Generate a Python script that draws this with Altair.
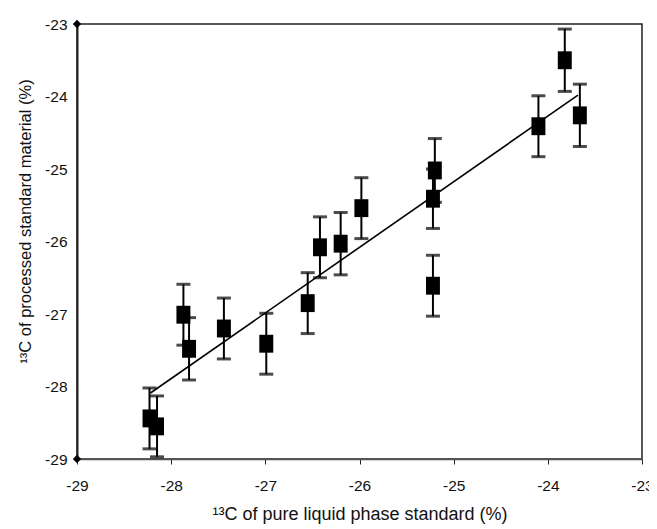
import altair as alt
import pandas as pd

# Data
x_vals = [-28.23, -28.15, -27.87, -27.81, -27.44, -26.99, -26.55, -26.42,
          -26.20, -25.98, -25.22, -25.22, -25.20, -24.10, -23.82, -23.66]
y_vals = [-28.44, -28.55, -27.01, -27.48, -27.20, -27.41, -26.85, -26.08,
          -26.03, -25.54, -26.61, -25.41, -25.02, -24.41, -23.50, -24.26]
y_err = [0.42, 0.42, 0.42, 0.43, 0.42, 0.42, 0.42, 0.42,
         0.43, 0.42, 0.42, 0.41, 0.44, 0.42, 0.43, 0.43]

fit_x = [-28.22, -23.68]
fit_y = [-28.09, -23.98]

corner_x = [-29, -29]
corner_y = [-23, -29]

x_ticks = [-29, -28, -27, -26, -25, -24, -23]
y_ticks = [-29, -28, -27, -26, -25, -24, -23]

df = pd.DataFrame({"x": x_vals, "y": y_vals, "e": y_err})
df["lo"] = df["y"] - df["e"]
df["hi"] = df["y"] + df["e"]
fit = pd.DataFrame({"x": fit_x, "y": fit_y})
corners = pd.DataFrame({"x": corner_x, "y": corner_y})

FONT = "Liberation Sans"
LABEL = "datum.value < 0 ? '-' + format(abs(datum.value), 'd') : format(datum.value, 'd')"
xscale = alt.Scale(domain=[-29, -23], nice=False, zero=False)
yscale = alt.Scale(domain=[-29, -23], nice=False, zero=False)

xaxis = alt.Axis(values=x_ticks, title="¹³C of pure liquid phase standard (%)",
                 grid=False, tickSize=5, tickColor="#222", domainColor="#555",
                 domainWidth=1.5, labelFontSize=15.5, titleFontSize=18,
                 labelFont=FONT, titleFont=FONT, labelColor="#111", titleColor="#111",
                 titleFontWeight="normal", labelPadding=14, titlePadding=12,
                 labelFlush=False, labelExpr=LABEL)
yaxis = alt.Axis(values=y_ticks, title="¹³C of processed standard material (%)",
                 grid=False, tickSize=0, domainColor="#222", domainWidth=2,
                 labelFontSize=15.5, titleFontSize=16.5, labelFont=FONT, titleFont=FONT,
                 labelColor="#111", titleColor="#111", titleFontWeight="normal",
                 labelPadding=10, labelFlush=False, labelExpr=LABEL,
                 titleX=-52, titleY=197, titleBaseline="middle", titleAngle=270)

base = alt.Chart(df)

bars = base.mark_rule(color="black", strokeWidth=2).encode(
    x=alt.X("x:Q", scale=xscale, axis=xaxis),
    y=alt.Y("lo:Q", scale=yscale, axis=yaxis),
    y2="hi:Q",
)
caps_hi = base.mark_tick(color="black", thickness=3, size=14, orient="horizontal").encode(
    x=alt.X("x:Q", scale=xscale), y=alt.Y("hi:Q", scale=yscale))
caps_lo = base.mark_tick(color="black", thickness=3, size=14, orient="horizontal").encode(
    x=alt.X("x:Q", scale=xscale), y=alt.Y("lo:Q", scale=yscale))

line = alt.Chart(fit).mark_line(color="black", strokeWidth=1.6).encode(
    x=alt.X("x:Q", scale=xscale), y=alt.Y("y:Q", scale=yscale))

squares = base.mark_point(shape="M-0.78,-1H0.78V1H-0.78Z", filled=True, color="black",
                          opacity=1, size=320).encode(
    x=alt.X("x:Q", scale=xscale), y=alt.Y("y:Q", scale=yscale))

diamonds = alt.Chart(corners).mark_point(shape="diamond", filled=True, color="black",
                                         opacity=1, size=70).encode(
    x=alt.X("x:Q", scale=xscale), y=alt.Y("y:Q", scale=yscale))

chart = alt.layer(bars, caps_hi, caps_lo, line, squares, diamonds).properties(
    width=565, height=435,
    autosize=alt.AutoSizeParams(type="none"),
    padding={"left": 69, "top": 16, "right": 7, "bottom": 70},
    background="white",
).configure_view(stroke="#222", strokeWidth=1.5)

chart.save("out.html", embed_options={"renderer": "svg", "actions": False})
